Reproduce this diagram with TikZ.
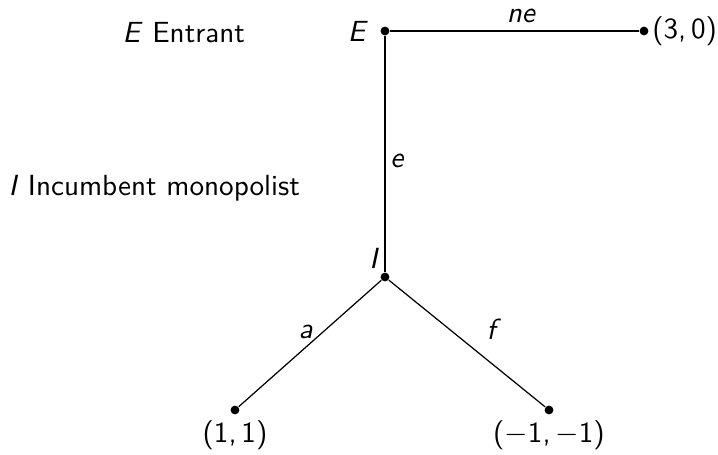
\documentclass[tikz,border=0pt]{standalone}
\newcommand\mysi[1]{\textsf{\itshape #1}}
\begin{document}
\begin{tikzpicture}[x=0.3636pt,y=-0.3636pt,
  font=\sffamily\fontsize{10.6}{12.5}\selectfont,
  dotnode/.style={circle,fill=black,inner sep=0pt,minimum size=3.2pt},
  edge/.style={draw=black,line width=0.45pt},
  lbl/.style={inner sep=0pt,anchor=center}]
\useasboundingbox (0,0) rectangle (718,454);
\node[dotnode] (E) at (385,31) {};
\node[dotnode] (T) at (644,31) {};
\node[dotnode] (I) at (385,277) {};
\node[dotnode] (L) at (235,410) {};
\node[dotnode] (R) at (549,410) {};
\draw[edge] (E) -- node[lbl,pos=0.5,yshift=5.5pt,xshift=2.5pt] {\mysi{ne}} (T);
\draw[edge] (E) -- node[lbl,pos=0.5,xshift=4.5pt,yshift=-2.5pt] {\mysi{e}} (I);
\draw[edge] (I) -- node[lbl,pos=0.5,xshift=-1.5pt,yshift=4.2pt] {\mysi{a}} (L);
\draw[edge] (I) -- node[lbl,pos=0.5,xshift=9.8pt,yshift=5.2pt] {\mysi{f}} (R);
\node[anchor=east,inner sep=2pt] (El) at ([xshift=-4pt]E.center) {\mysi{E}};
\node[anchor=south east,inner sep=1pt] (Il) at ([xshift=-1pt,yshift=2pt]I.center) {\mysi{I}};
\node[anchor=west,inner sep=1pt] (Tl) at (T.east) {(3,\,0)};
\node[anchor=north,inner sep=2pt] (Ll) at (L.south) {(1,\,1)};
\node[anchor=north,inner sep=2pt] (Rl) at (R.south) {($-$1,\,$-$1)};
\node[anchor=base west,inner sep=0pt] (K1) at (122,42) {\mysi{E} Entrant};
\node[anchor=base west,inner sep=0pt] (K2) at (8,195) {\mysi{I} Incumbent monopolist};
\end{tikzpicture}
\end{document}
